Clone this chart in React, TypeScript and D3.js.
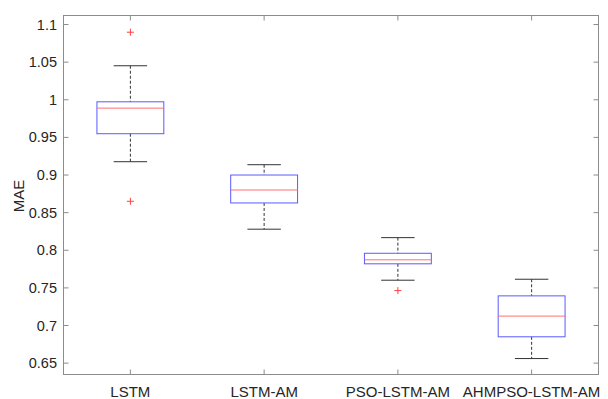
import React from "react";
import * as d3 from "d3";

const categories = ["LSTM", "LSTM-AM", "PSO-LSTM-AM", "AHMPSO-LSTM-AM"];
const lowerWhisker = [0.9177, 0.828, 0.7602, 0.6561];
const q1 = [0.9549, 0.8629, 0.782, 0.685];
const median = [0.9889, 0.8801, 0.7873, 0.7125];
const q3 = [0.9973, 0.9, 0.796, 0.7394];
const upperWhisker = [1.0452, 0.9137, 0.8168, 0.7615];
const outliers: number[][] = [[1.0898, 0.8651], [], [0.7464], []];
const yTicks = [0.65, 0.7, 0.75, 0.8, 0.85, 0.9, 0.95, 1, 1.05, 1.1];
const yLabel = "MAE";

const W = 608;
const H = 399;
const left = 63.5;
const right = 598.5;
const top = 15.5;
const bottom = 374.5;
const font = "Arial, 'Liberation Sans', sans-serif";
const axisColor = "#8c8c8c";

export default function App() {
  const x = d3.scaleLinear().domain([0.5, categories.length + 0.5]).range([left, right]);
  const y = d3.scaleLinear().domain([0.6349, 1.112]).range([bottom, top]);
  const boxHalf = 0.25;
  const capHalf = 0.125;

  return (
    <svg
      width={W}
      height={H}
      style={{ position: "absolute", left: 0, top: 0 }}
      fontFamily={font}
    >
      <rect x={0} y={0} width={W} height={H} fill="#fff" />
      {/* frame */}
      <rect x={left} y={top} width={right - left} height={bottom - top} fill="none" stroke={axisColor} strokeWidth={1} />
      {/* y ticks */}
      {yTicks.map((t) => (
        <g key={t}>
          <line x1={left} x2={left + 5} y1={y(t)} y2={y(t)} stroke={axisColor} />
          <line x1={right} x2={right - 5} y1={y(t)} y2={y(t)} stroke={axisColor} />
          <text x={57} y={y(t)} dy="0.35em" textAnchor="end" fontSize={14.5} fill="#262626">
            {d3.format("")(t)}
          </text>
        </g>
      ))}
      {/* x ticks */}
      {categories.map((c, i) => (
        <g key={c}>
          <line x1={x(i + 1)} x2={x(i + 1)} y1={bottom} y2={bottom - 5} stroke={axisColor} />
          <line x1={x(i + 1)} x2={x(i + 1)} y1={top} y2={top + 5} stroke={axisColor} />
          <text x={x(i + 1)} y={397} textAnchor="middle" fontSize={15} fill="#262626">
            {c}
          </text>
        </g>
      ))}
      <text
        transform={`translate(24, ${(top + bottom) / 2 + 1}) rotate(-90)`}
        textAnchor="middle"
        fontSize={15}
        fill="#262626"
      >
        {yLabel}
      </text>
      {/* boxes */}
      {categories.map((c, i) => {
        const cx = x(i + 1);
        const bx0 = x(i + 1 - boxHalf);
        const bx1 = x(i + 1 + boxHalf);
        const cx0 = x(i + 1 - capHalf);
        const cx1 = x(i + 1 + capHalf);
        return (
          <g key={"b" + c}>
            <line x1={cx} x2={cx} y1={y(upperWhisker[i])} y2={y(q3[i])} stroke="#333" strokeDasharray="3,2" />
            <line x1={cx} x2={cx} y1={y(q1[i])} y2={y(lowerWhisker[i])} stroke="#333" strokeDasharray="3,2" />
            <line x1={cx0} x2={cx1} y1={y(upperWhisker[i])} y2={y(upperWhisker[i])} stroke="#333" />
            <line x1={cx0} x2={cx1} y1={y(lowerWhisker[i])} y2={y(lowerWhisker[i])} stroke="#333" />
            <rect
              x={bx0}
              y={y(q3[i])}
              width={bx1 - bx0}
              height={y(q1[i]) - y(q3[i])}
              fill="none"
              stroke="#5a5aff"
            />
            <line x1={bx0} x2={bx1} y1={y(median[i])} y2={y(median[i])} stroke="#ff7070" />
            {outliers[i].map((o, k) => (
              <g key={k} stroke="#ff4040">
                <line x1={cx - 3.5} x2={cx + 3.5} y1={y(o)} y2={y(o)} />
                <line x1={cx} x2={cx} y1={y(o) - 3.5} y2={y(o) + 3.5} />
              </g>
            ))}
          </g>
        );
      })}
    </svg>
  );
}
